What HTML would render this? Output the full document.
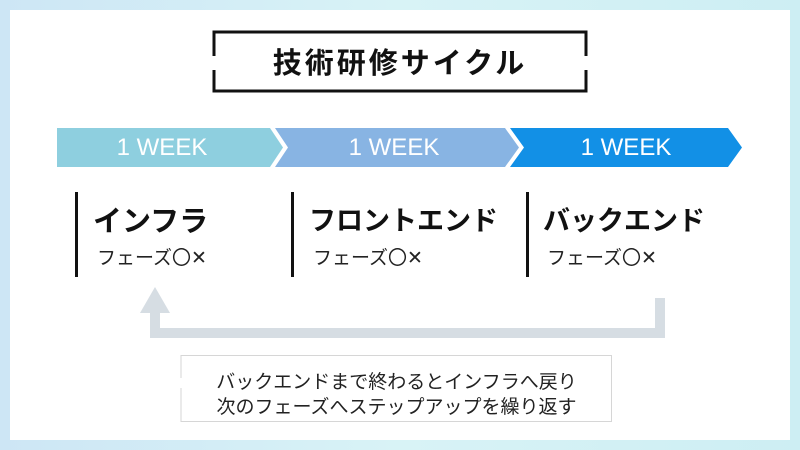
<!DOCTYPE html>
<html><head><meta charset="utf-8"><style>
body{margin:0;width:800px;height:450px;overflow:hidden;background:linear-gradient(90deg,#cde6f5,#d8f3f6,#cdeef3);font-family:"Liberation Sans","Noto Sans CJK JP",sans-serif}
.in{position:absolute;left:10px;top:10px;width:780px;height:430px;background:#fff}
.t{position:absolute;white-space:nowrap}
.j{font-family:"Noto Sans CJK JP",sans-serif}
</style></head><body>
<div class="in"></div>
<svg width="800" height="450" style="position:absolute;left:0;top:0">
<path d="M214 56 V32 H586 V56 M586 70 V91 H214 V70" fill="none" stroke="#111" stroke-width="3"/>
<polygon points="57,128 270,128 283,147.5 270,167 57,167" fill="#8ecfdf"/>
<polygon points="275,128 505,128 519,147.5 505,167 275,167 288,147.5" fill="#88b4e3"/>
<polygon points="510,128 728,128 742,147.5 728,167 510,167 524,147.5" fill="#1290e6"/>
<rect x="75" y="192" width="3" height="85" fill="#111"/>
<rect x="291" y="192" width="3" height="85" fill="#111"/>
<rect x="526" y="192" width="3" height="85" fill="#111"/>
<path d="M660 298 V333 H155 V312" fill="none" stroke="#d6dde3" stroke-width="10"/>
<polygon points="140,313 170,313 155,287" fill="#d6dde3"/>
<path d="M181 378 V355.5 H611.5 V421.5 H181 V388" fill="none" stroke="#d6d6d6" stroke-width="1"/>
</svg>
<div class="t j" style="left:214px;width:372px;top:41px;text-align:center;font-size:29px;line-height:40px;font-weight:bold;color:#111;letter-spacing:3px">技術研修サイクル</div>
<div class="t" style="left:57px;width:210px;top:134px;text-align:center;font-size:24px;line-height:28px;color:#fff">1 WEEK</div>
<div class="t" style="left:288px;width:212px;top:134px;text-align:center;font-size:24px;line-height:28px;color:#fff">1 WEEK</div>
<div class="t" style="left:524px;width:204px;top:134px;text-align:center;font-size:24px;line-height:28px;color:#fff">1 WEEK</div>
<div class="t j" style="left:93px;top:200px;font-size:29px;line-height:38px;font-weight:bold;color:#111">インフラ</div>
<div class="t j" style="left:97px;top:243px;font-size:19px;line-height:28px;color:#222">フェーズ〇✕</div>
<div class="t j" style="left:309px;top:200px;font-size:27px;line-height:38px;font-weight:bold;color:#111">フロントエンド</div>
<div class="t j" style="left:313px;top:243px;font-size:19px;line-height:28px;color:#222">フェーズ〇✕</div>
<div class="t j" style="left:543px;top:200px;font-size:27px;line-height:38px;font-weight:bold;color:#111">バックエンド</div>
<div class="t j" style="left:547px;top:243px;font-size:19px;line-height:28px;color:#222">フェーズ〇✕</div>
<div class="t j" style="left:181px;width:431px;top:368px;text-align:center;font-size:19px;line-height:25px;color:#222">バックエンドまで終わるとインフラへ戻り<br>次のフェーズへステップアップを繰り返す</div>
</body></html>
